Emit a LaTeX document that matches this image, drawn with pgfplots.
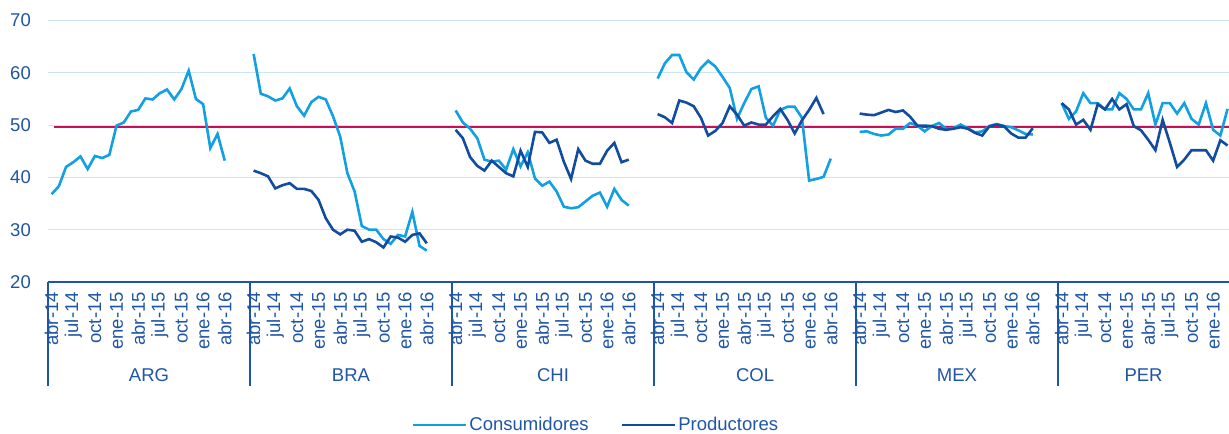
\documentclass[border=0pt]{standalone}
\usepackage{fontspec}
\setmainfont{Liberation Sans}
\usepackage{pgfplots}
\pgfplotsset{compat=1.18}
\usepackage{pgfplotstable}

\definecolor{conscol}{RGB}{18,160,226}
\definecolor{prodcol}{RGB}{17,76,158}
\definecolor{axblue}{RGB}{30,85,165}
\definecolor{redcol}{RGB}{200,16,88}
\definecolor{gridcol}{RGB}{200,230,245}

% m = month index from abr-14
\pgfplotstableread{
m cons prod
0 36.8 nan
1 38.3 nan
2 42.0 nan
3 42.9 nan
4 44.0 nan
5 41.6 nan
6 44.1 nan
7 43.7 nan
8 44.3 nan
9 49.9 nan
10 50.5 nan
11 52.6 nan
12 52.9 nan
13 55.1 nan
14 54.9 nan
15 56.1 nan
16 56.8 nan
17 54.9 nan
18 56.9 nan
19 60.4 nan
20 55.0 nan
21 54.0 nan
22 45.6 nan
23 48.3 nan
24 43.2 nan
}\tabARG

\pgfplotstableread{
m cons prod
0 63.6 41.3
1 56.0 40.8
2 55.5 40.2
3 54.7 37.9
4 55.1 38.5
5 57.0 38.9
6 53.6 37.8
7 51.8 37.8
8 54.4 37.4
9 55.4 35.7
10 54.9 32.2
11 51.7 30.0
12 47.8 29.1
13 40.8 30.0
14 37.3 29.8
15 30.7 27.7
16 30.0 28.2
17 30.0 27.6
18 28.2 26.6
19 27.3 28.7
20 29.0 28.5
21 28.7 27.7
22 33.4 29.0
23 26.9 29.3
24 26.0 27.4
}\tabBRA

\pgfplotstableread{
m cons prod
0 52.8 49.1
1 50.5 47.5
2 49.3 43.9
3 47.5 42.2
4 43.4 41.3
5 43.0 43.2
6 43.2 42.0
7 41.5 40.8
8 45.4 40.2
9 42.1 45.1
10 44.8 42.0
11 39.8 48.7
12 38.4 48.6
13 39.2 46.6
14 37.3 47.2
15 34.4 43.0
16 34.1 39.7
17 34.3 45.4
18 35.4 43.2
19 36.5 42.6
20 37.1 42.6
21 34.4 45.1
22 37.8 46.6
23 35.7 42.9
24 34.6 43.4
}\tabCHI

\pgfplotstableread{
m cons prod
0 58.9 52.1
1 61.8 51.5
2 63.4 50.4
3 63.4 54.7
4 60.1 54.3
5 58.7 53.6
6 60.9 51.4
7 62.3 48.0
8 61.2 48.9
9 59.2 50.4
10 57.1 53.6
11 51.2 52.0
12 54.2 49.9
13 56.9 50.5
14 57.4 50.1
15 51.4 50.1
16 49.9 51.7
17 52.9 53.1
18 53.5 51.0
19 53.5 48.4
20 51.4 50.9
21 39.4 52.9
22 39.7 55.2
23 40.1 52.1
24 43.6 nan
}\tabCOL

\pgfplotstableread{
m cons prod
0 48.7 52.2
1 48.8 52.0
2 48.3 51.9
3 48.0 52.4
4 48.2 52.9
5 49.3 52.5
6 49.3 52.8
7 50.4 51.6
8 49.9 49.9
9 48.8 49.9
10 49.8 49.8
11 50.4 49.3
12 49.3 49.1
13 49.4 49.3
14 50.1 49.6
15 49.4 49.3
16 48.6 48.5
17 48.8 48.0
18 49.8 49.8
19 50.2 50.1
20 49.8 49.8
21 49.6 48.4
22 49.0 47.6
23 48.3 47.6
24 48.2 49.4
}\tabMEX

\pgfplotstableread{
m cons prod
0 54.2 54.2
1 51.2 53.0
2 52.6 50.1
3 56.1 51.0
4 54.2 49.1
5 54.2 54.0
6 53.0 53.0
7 53.0 55.0
8 56.1 53.0
9 55.0 54.0
10 53.0 49.8
11 53.0 49.0
12 56.1 47.2
13 50.1 45.2
14 54.2 51.0
15 54.2 46.6
16 52.2 42.0
17 54.2 43.4
18 51.2 45.2
19 50.1 45.2
20 54.2 45.2
21 49.1 43.2
22 48.0 47.1
23 53.1 46.1
}\tabPER

\begin{document}
\begin{tikzpicture}[font=\fontsize{18.5bp}{22bp}\selectfont]
\begin{axis}[
    scale only axis,
    width=1181bp, height=261.5bp,
    xmin=0, xmax=163.7,
    ymin=20, ymax=70,
    axis x line*=bottom, axis y line*=left,
    x axis line style={draw=axblue, line width=1.6bp, -},
    y axis line style={draw=none},
    ytick={20,30,40,50,60,70},
    ymajorgrids=true,
    grid style={draw=gridcol, line width=1bp},
    major tick length=0pt,
    tick style={draw=axblue, line width=1.6bp},
    /pgf/number format/assume math mode=true,
    yticklabel style={inner sep=0pt, xshift=-17bp, text=axblue},
    xtick={0.5,3.5,6.5,9.5,12.5,15.5,18.5,21.5,24.5,
           28.5,31.5,34.5,37.5,40.5,43.5,46.5,49.5,52.5,
           56.5,59.5,62.5,65.5,68.5,71.5,74.5,77.5,80.5,
           84.5,87.5,90.5,93.5,96.5,99.5,102.5,105.5,108.5,
           112.5,115.5,118.5,121.5,124.5,127.5,130.5,133.5,136.5,
           140.5,143.5,146.5,149.5,152.5,155.5,158.5,161.5},
    xticklabels={abr-14,jul-14,oct-14,ene-15,abr-15,jul-15,oct-15,ene-16,abr-16,
                 abr-14,jul-14,oct-14,ene-15,abr-15,jul-15,oct-15,ene-16,abr-16,
                 abr-14,jul-14,oct-14,ene-15,abr-15,jul-15,oct-15,ene-16,abr-16,
                 abr-14,jul-14,oct-14,ene-15,abr-15,jul-15,oct-15,ene-16,abr-16,
                 abr-14,jul-14,oct-14,ene-15,abr-15,jul-15,oct-15,ene-16,abr-16,
                 abr-14,jul-14,oct-14,ene-15,abr-15,jul-15,oct-15,ene-16},
    xticklabel style={rotate=90, anchor=east, inner sep=0pt, xshift=-10bp, text=axblue},
    extra x ticks={0,28,56,84,112,140},
    extra x tick labels={},
    extra x tick style={tick align=outside, major tick length=104bp},
    clip mode=individual,
    legend image code/.code={\draw[#1] (0bp,0bp) -- (53bp,0bp);},
    legend style={at={(0.464,-0.547)}, anchor=center, draw=none, fill=none,
        legend columns=2, text=axblue,
        /tikz/every even column/.append style={column sep=30bp}},
]
\addlegendimage{conscol, line width=2.6bp}
\addlegendentry{Consumidores}
\addlegendimage{prodcol, line width=2.6bp}
\addlegendentry{Productores}

\addplot[redcol, line width=2bp, forget plot] coordinates {(0.9,49.6) (163.7,49.6)};

\addplot[conscol, line width=2.6bp, forget plot] table[x expr=\thisrow{m}+0.5, y=cons] {\tabARG};
\addplot[conscol, line width=2.6bp, forget plot] table[x expr=\thisrow{m}+28.5, y=cons] {\tabBRA};
\addplot[prodcol, line width=2.6bp, forget plot] table[x expr=\thisrow{m}+28.5, y=prod] {\tabBRA};
\addplot[conscol, line width=2.6bp, forget plot] table[x expr=\thisrow{m}+56.5, y=cons] {\tabCHI};
\addplot[prodcol, line width=2.6bp, forget plot] table[x expr=\thisrow{m}+56.5, y=prod] {\tabCHI};
\addplot[conscol, line width=2.6bp, forget plot] table[x expr=\thisrow{m}+84.5, y=cons] {\tabCOL};
\addplot[prodcol, line width=2.6bp, forget plot] table[x expr=\thisrow{m}+84.5, y=prod] {\tabCOL};
\addplot[conscol, line width=2.6bp, forget plot] table[x expr=\thisrow{m}+112.5, y=cons] {\tabMEX};
\addplot[prodcol, line width=2.6bp, forget plot] table[x expr=\thisrow{m}+112.5, y=prod] {\tabMEX};
\addplot[conscol, line width=2.6bp, forget plot] table[x expr=\thisrow{m}+140.5, y=cons] {\tabPER};
\addplot[prodcol, line width=2.6bp, forget plot] table[x expr=\thisrow{m}+140.5, y=prod] {\tabPER};

\node[text=axblue, yshift=-93bp] at (axis cs:14,20) {ARG};
\node[text=axblue, yshift=-93bp] at (axis cs:42,20) {BRA};
\node[text=axblue, yshift=-93bp] at (axis cs:70,20) {CHI};
\node[text=axblue, yshift=-93bp] at (axis cs:98,20) {COL};
\node[text=axblue, yshift=-93bp] at (axis cs:126,20) {MEX};
\node[text=axblue, yshift=-93bp] at (axis cs:151.85,20) {PER};

\coordinate (ll) at (rel axis cs:0,0);
\coordinate (ur) at (rel axis cs:1,1);
\end{axis}
\pgfresetboundingbox
\path[use as bounding box] ([shift={(-48bp,-152bp)}]ll) rectangle ([shift={(0bp,20.5bp)}]ur);
\end{tikzpicture}
\end{document}
